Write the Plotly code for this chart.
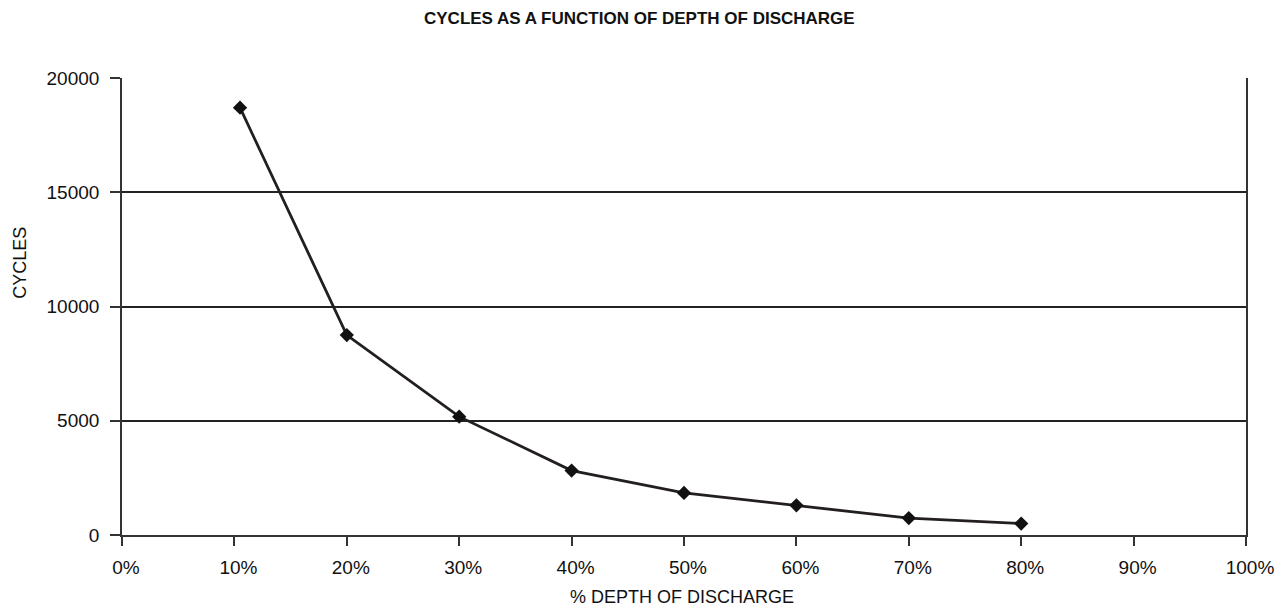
import plotly.graph_objects as go

# Data
depth_pct = [10.5, 20, 30, 40, 50, 60, 70, 80]
cycles = [18700, 8750, 5180, 2820, 1840, 1300, 740, 500]

x_tick_vals = [0, 10, 20, 30, 40, 50, 60, 70, 80, 90, 100]
x_tick_text = ["0%", "10%", "20%", "30%", "40%", "50%", "60%", "70%", "80%", "90%", "100%"]
y_tick_vals = [0, 5000, 10000, 15000, 20000]
y_tick_text = ["0", "5000", "10000", "15000", "20000"]

title_text = "CYCLES AS A FUNCTION OF DEPTH OF DISCHARGE"
x_title = "% DEPTH OF DISCHARGE"
y_title = "CYCLES"

FONT = "Liberation Sans, Arial, Helvetica, sans-serif"

# page body has an 8px margin; plot area targeted at x 122..1246, y 78..535.5 in the window
OFF = 8
PL, PR, PT, PB = 122, 1246, 78, 535.5
W, H = 1283 - 2 * OFF, 615 - 2 * OFF
PW, PH = PR - PL, PB - PT

fig = go.Figure()
fig.add_trace(go.Scatter(
    x=depth_pct, y=cycles, mode="lines+markers",
    line=dict(color="#231f20", width=2.8),
    marker=dict(symbol="diamond", size=11, color="#111111"),
    showlegend=False, hoverinfo="x+y",
))

fig.update_layout(
    width=W, height=H,
    margin=dict(l=PL - OFF, r=W - (PR - OFF), t=PT - OFF, b=H - (PB - OFF), pad=0, autoexpand=False),
    paper_bgcolor="white", plot_bgcolor="white",
    font=dict(family=FONT, size=18, color="#111"),
)
fig.add_annotation(text="<b>" + title_text + "</b>", xref="paper", yref="paper",
                   x=(639 - PL) / PW, y=1 + (PT - 18) / PH, xanchor="center", yanchor="middle",
                   showarrow=False,
                   font=dict(family="Liberation Sans Narrow, Arial Narrow, Liberation Sans, sans-serif", size=17, color="#111"))
fig.add_annotation(text=y_title, xref="paper", yref="paper",
                   x=(20 - PL) / PW, y=(PB - 263) / PH, xanchor="center", yanchor="middle",
                   textangle=-90, showarrow=False, font=dict(family=FONT, size=18, color="#111"))
fig.add_annotation(text=x_title, xref="paper", yref="paper",
                   x=(682 - PL) / PW, y=-(598 - PB) / PH, xanchor="center", yanchor="middle",
                   showarrow=False, font=dict(family=FONT, size=18, color="#111"))

fig.update_xaxes(
    range=[0, 100], tickvals=x_tick_vals, ticktext=x_tick_text,
    showgrid=False, zeroline=False, automargin=False,
    showline=True, linecolor="#333", linewidth=1.6, mirror=False,
    ticks="outside", ticklen=9, tickwidth=1.6, tickcolor="#333",
    ticklabelshift=4, ticklabelstandoff=5, ticklabeloverflow="allow",
    tickfont=dict(family=FONT, size=19, color="#111"),
)
fig.update_yaxes(
    range=[0, 20000], tickvals=y_tick_vals, ticktext=y_tick_text,
    showgrid=True, gridcolor="#222", gridwidth=1.5, zeroline=False, automargin=False,
    showline=True, linecolor="#333", linewidth=1.6, mirror=True,
    ticks="outside", ticklen=10, tickwidth=1.6, tickcolor="#333",
    ticklabelstandoff=7,
    tickfont=dict(family=FONT, size=19, color="#111"),
)

fig.write_html("out.html")
